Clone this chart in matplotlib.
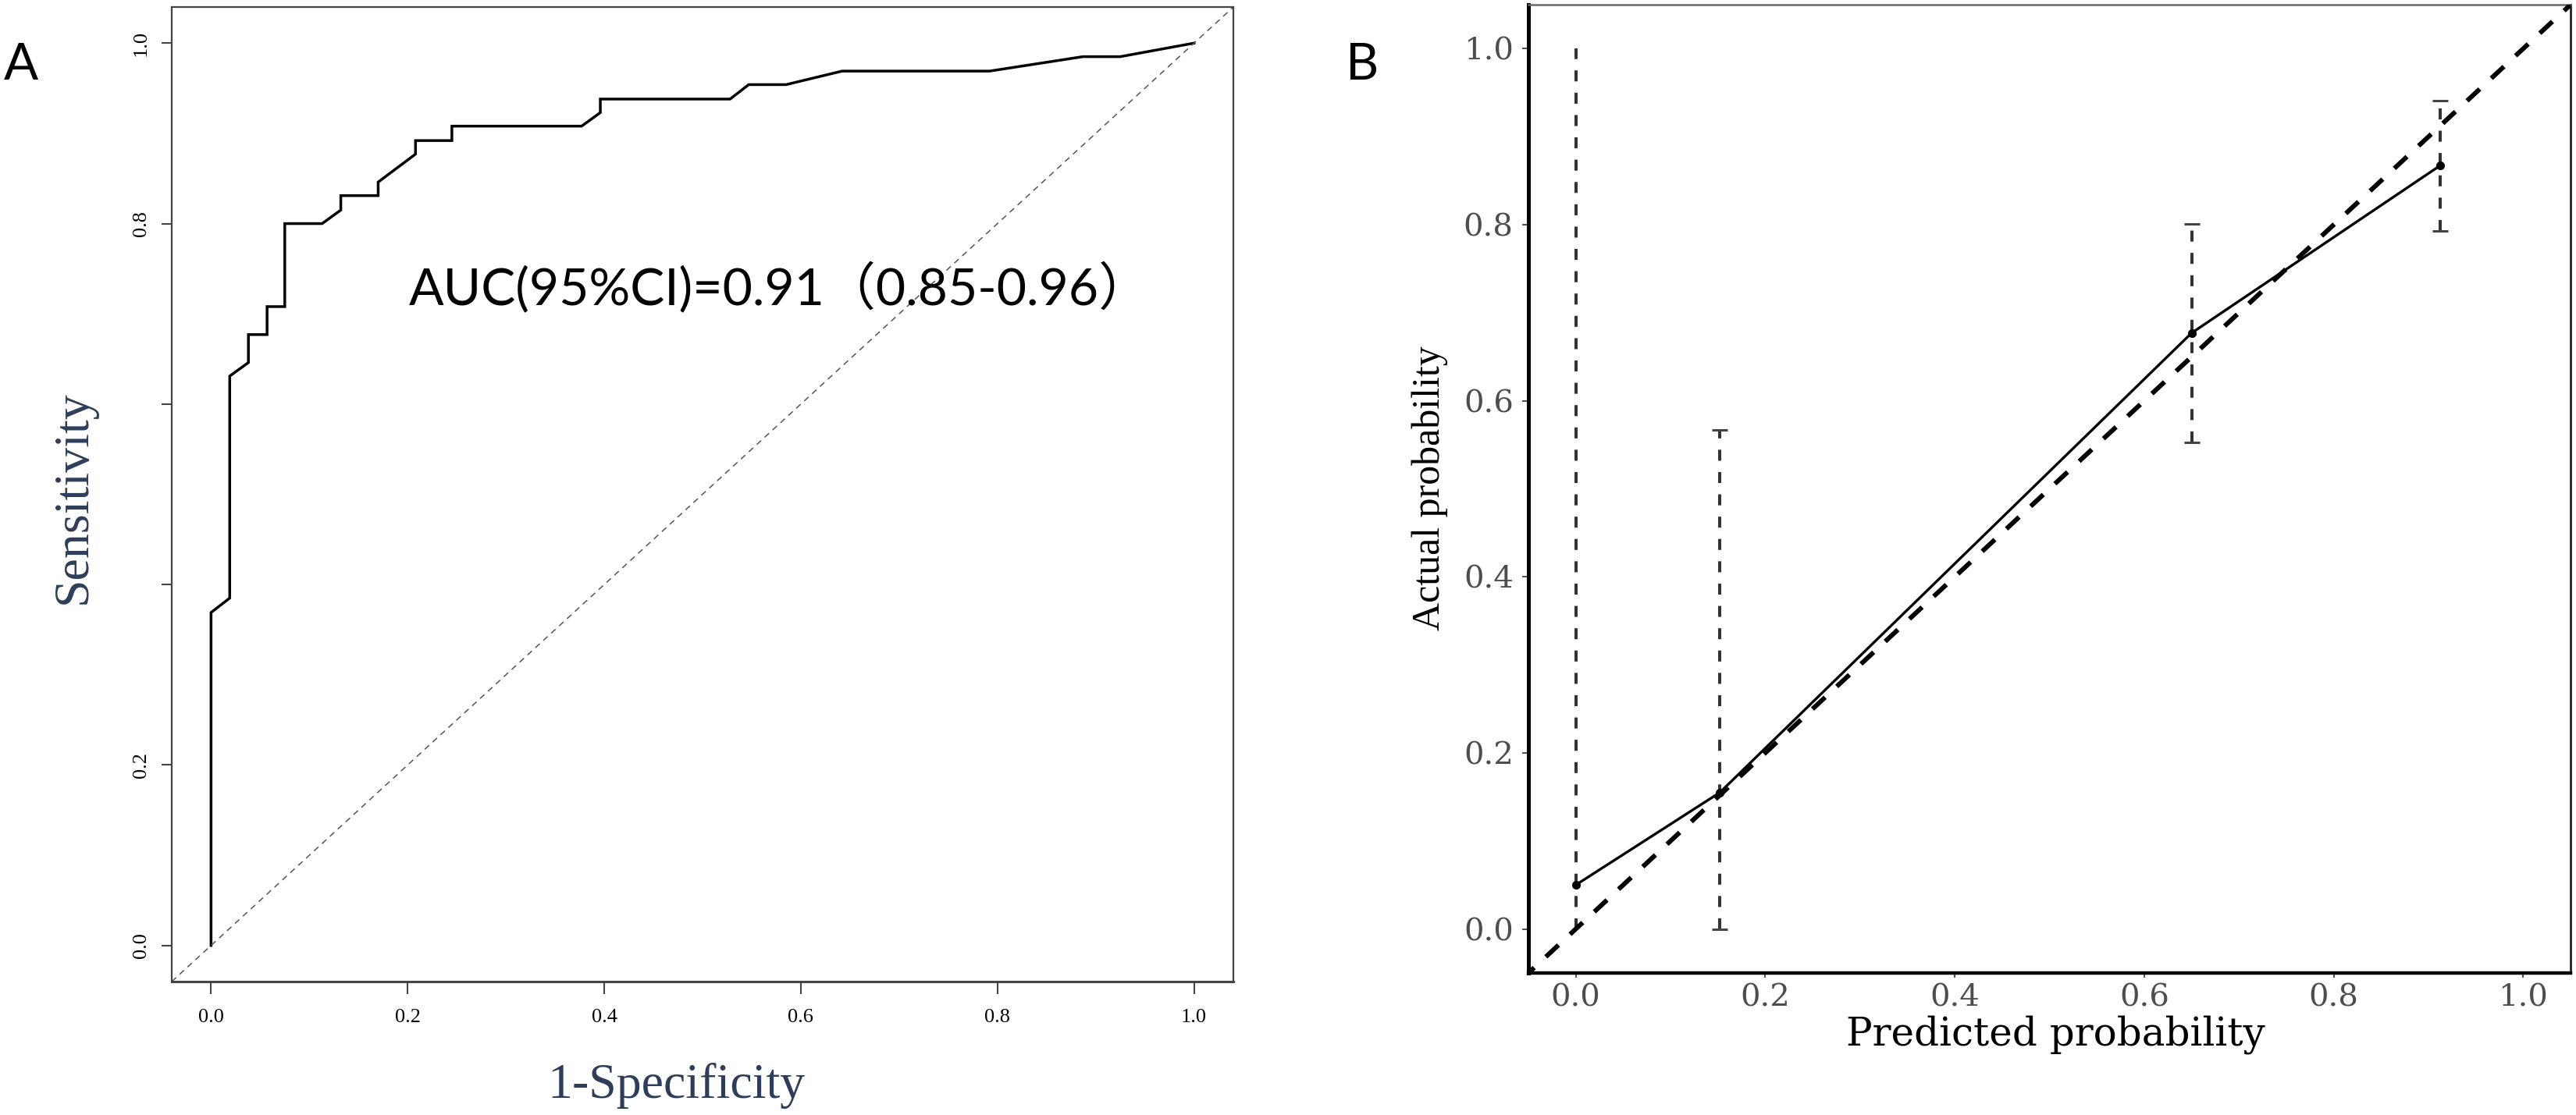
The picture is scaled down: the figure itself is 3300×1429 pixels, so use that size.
import matplotlib
matplotlib.use("Agg")
import matplotlib.pyplot as plt

# ---- data: panel A (ROC curve) ----
roc_fpr = [0, 0, 0.019, 0.019, 0.038, 0.038, 0.057, 0.057, 0.075, 0.075,
           0.113, 0.132, 0.132, 0.170, 0.170, 0.208, 0.208, 0.245, 0.245,
           0.377, 0.396, 0.396, 0.528, 0.547, 0.585, 0.642, 0.792, 0.887,
           0.925, 1.0]
roc_tpr = [0, 0.369, 0.385, 0.631, 0.646, 0.677, 0.677, 0.708, 0.708, 0.800,
           0.800, 0.815, 0.831, 0.831, 0.846, 0.877, 0.892, 0.892, 0.908,
           0.908, 0.923, 0.938, 0.938, 0.954, 0.954, 0.969, 0.969, 0.985,
           0.985, 1.0]
roc_ticks = [0.0, 0.2, 0.4, 0.6, 0.8, 1.0]
roc_xticklabels = ["0.0", "0.2", "0.4", "0.6", "0.8", "1.0"]
roc_yticklabels = ["0.0", "0.2", "", "", "0.8", "1.0"]
auc_text = "AUC(95%CI)=0.91（0.85-0.96）"

# ---- data: panel B (calibration) ----
cal_pred = [0.0, 0.152, 0.650, 0.912]
cal_obs = [0.050, 0.155, 0.677, 0.867]
cal_lower = [0.0, 0.0, 0.553, 0.793]
cal_upper = [1.0, 0.567, 0.801, 0.941]
cal_has_cap = [False, True, True, True]
cal_ticks = [0.0, 0.2, 0.4, 0.6, 0.8, 1.0]
cal_ticklabels = ["0.0", "0.2", "0.4", "0.6", "0.8", "1.0"]

W, H = 3300, 1429
fig = plt.figure(figsize=(W / 100, H / 100), dpi=100)
fig.patch.set_facecolor("white")

label_blue = "#2c3e5a"

# ================= Panel A =================
axA = fig.add_axes([220 / W, 1 - 1258 / H, 1360 / W, 1249 / H])
axA.plot(roc_fpr, roc_tpr, color="black", lw=2.5, solid_joinstyle="miter")
axA.axline((0, 0), (1, 1), color="#555555", lw=1.1, linestyle=(0, (5, 4)))
axA.set_xlim(-0.04, 1.04)
axA.set_ylim(-0.04, 1.04)

for s in axA.spines.values():
    s.set_color("#444444")
    s.set_linewidth(1.6)
axA.spines["bottom"].set_linewidth(2.2)

axA.set_xticks(roc_ticks)
axA.set_xticklabels(roc_xticklabels, fontfamily="Liberation Serif", fontsize=19)
axA.set_yticks(roc_ticks)
axA.set_yticklabels(roc_yticklabels, fontfamily="Liberation Serif", fontsize=19,
                    rotation=90, va="center")
axA.tick_params(axis="x", length=11.5, width=1.5, color="#444444", pad=14)
axA.tick_params(axis="y", length=9.4, width=1.5, color="#444444", pad=11)

axA.text(0.201, 0.709, auc_text, ha="left", va="baseline", fontsize=47.5,
         family=["Lato", "Noto Sans CJK SC", "DejaVu Sans"], color="black")

axA.text(0.475, -0.107, "1-Specificity", transform=axA.transAxes, ha="center",
         va="center", fontsize=46, fontfamily="Liberation Serif", color=label_blue)
axA.text(-0.0919, 0.497, "Sensitivity", transform=axA.transAxes, ha="center",
         va="center", rotation=90, fontsize=46, fontfamily="Liberation Serif",
         color=label_blue)

# ================= Panel B =================
axB = fig.add_axes([1958 / W, 1 - 1247 / H, 1335 / W, 1241 / H])
axB.set_xlim(-0.05, 1.05)
axB.set_ylim(-0.05, 1.05)

bar_color = "#333333"
for x, lo, hi, cap in zip(cal_pred, cal_lower, cal_upper, cal_has_cap):
    axB.vlines(x, lo, hi, color=bar_color, lw=2.9, linestyles=[(0, (3.5, 3.6))],
               zorder=2)
    if cap:
        axB.plot([x, x], [lo, hi], linestyle="none", marker="_", markersize=14,
                 markeredgewidth=2.2, color="#444444", zorder=2)

axB.plot(cal_pred, cal_obs, color="black", lw=2.4, zorder=3)
axB.plot(cal_pred, cal_obs, linestyle="none", marker="o", markersize=7,
         color="black", zorder=4)
axB.axline((0, 0), (1, 1), color="black", lw=4.3, linestyle=(2, (3.7, 3.4)),
           zorder=5)

axB.spines["left"].set_linewidth(3.6)
axB.spines["left"].set_color("black")
axB.spines["bottom"].set_linewidth(3.2)
axB.spines["bottom"].set_color("black")
axB.spines["right"].set_linewidth(2.0)
axB.spines["right"].set_color("#222222")
axB.spines["top"].set_linewidth(1.8)
axB.spines["top"].set_color("#666666")

axB.set_xticks(cal_ticks)
axB.set_xticklabels(cal_ticklabels, fontfamily="DejaVu Serif", fontsize=29,
                    color="#4d4d4d")
axB.set_yticks(cal_ticks)
axB.set_yticklabels(cal_ticklabels, fontfamily="DejaVu Serif", fontsize=29,
                    color="#4d4d4d")
axB.tick_params(axis="x", length=4.5, width=1.4, color="#4d4d4d", pad=5)
axB.tick_params(axis="y", length=5.8, width=1.4, color="#4d4d4d", pad=8)

axB.text(0.5056, -0.0637, "Predicted probability", transform=axB.transAxes,
         ha="center", va="center", fontsize=36, fontfamily="DejaVu Serif",
         color="black")
axB.text(-0.0944, 0.501, "Actual probability", transform=axB.transAxes,
         ha="center", va="center", rotation=90, fontsize=36,
         fontfamily="Liberation Serif", color="black")

# ---- panel letters ----
fig.text(5 / W, 1 - 102 / H, "A", ha="left", va="baseline", fontsize=47,
         fontfamily="Lato", color="black")
fig.text(1724 / W, 1 - 102 / H, "B", ha="left", va="baseline", fontsize=47,
         fontfamily="Lato", color="black")

fig.savefig("out.png", dpi=100)
